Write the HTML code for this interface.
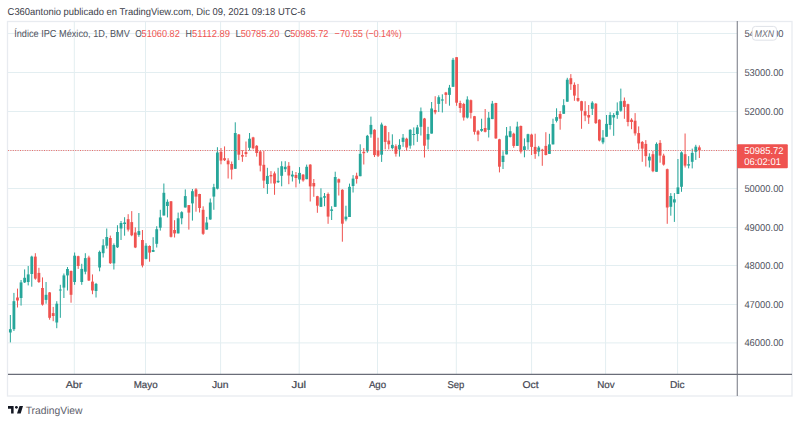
<!DOCTYPE html>
<html><head><meta charset="utf-8">
<style>
html,body{margin:0;padding:0;background:#fff;}
body{width:800px;height:424px;position:relative;overflow:hidden;}
svg{position:absolute;left:0;top:0;}
text{font-family:"Liberation Sans",sans-serif;white-space:pre;text-rendering:geometricPrecision;}
</style></head><body>
<svg width="800" height="424" viewBox="0 0 800 424">
<line x1="74.3" y1="21.5" x2="74.3" y2="374" stroke="#e3eef1" stroke-width="1"/>
<line x1="145.5" y1="21.5" x2="145.5" y2="374" stroke="#e3eef1" stroke-width="1"/>
<line x1="220.6" y1="21.5" x2="220.6" y2="374" stroke="#e3eef1" stroke-width="1"/>
<line x1="299.2" y1="21.5" x2="299.2" y2="374" stroke="#e3eef1" stroke-width="1"/>
<line x1="377.5" y1="21.5" x2="377.5" y2="374" stroke="#e3eef1" stroke-width="1"/>
<line x1="456.3" y1="21.5" x2="456.3" y2="374" stroke="#e3eef1" stroke-width="1"/>
<line x1="531.6" y1="21.5" x2="531.6" y2="374" stroke="#e3eef1" stroke-width="1"/>
<line x1="605.6" y1="21.5" x2="605.6" y2="374" stroke="#e3eef1" stroke-width="1"/>
<line x1="677.6" y1="21.5" x2="677.6" y2="374" stroke="#e3eef1" stroke-width="1"/>
<line x1="8" y1="342.90" x2="737" y2="342.90" stroke="#e3eef1" stroke-width="1"/>
<line x1="8" y1="304.50" x2="737" y2="304.50" stroke="#e3eef1" stroke-width="1"/>
<line x1="8" y1="265.50" x2="737" y2="265.50" stroke="#e3eef1" stroke-width="1"/>
<line x1="8" y1="227.50" x2="737" y2="227.50" stroke="#e3eef1" stroke-width="1"/>
<line x1="8" y1="188.50" x2="737" y2="188.50" stroke="#e3eef1" stroke-width="1"/>
<line x1="8" y1="150.50" x2="737" y2="150.50" stroke="#e3eef1" stroke-width="1"/>
<line x1="8" y1="111.50" x2="737" y2="111.50" stroke="#e3eef1" stroke-width="1"/>
<line x1="8" y1="72.50" x2="737" y2="72.50" stroke="#e3eef1" stroke-width="1"/>
<line x1="8" y1="33.50" x2="737" y2="33.50" stroke="#e3eef1" stroke-width="1"/>
<rect x="9.85" y="315.00" width="1.0" height="27.40" fill="#26a69a"/>
<rect x="8.95" y="329.20" width="2.8" height="3.30" fill="#26a69a"/>
<rect x="13.42" y="292.90" width="1.0" height="38.10" fill="#26a69a"/>
<rect x="12.52" y="301.20" width="2.8" height="28.00" fill="#26a69a"/>
<rect x="16.99" y="288.60" width="1.0" height="18.90" fill="#ef5350"/>
<rect x="16.09" y="297.50" width="2.8" height="3.00" fill="#ef5350"/>
<rect x="20.56" y="280.00" width="1.0" height="25.60" fill="#26a69a"/>
<rect x="19.66" y="282.40" width="2.8" height="15.60" fill="#26a69a"/>
<rect x="24.13" y="269.40" width="1.0" height="13.60" fill="#26a69a"/>
<rect x="23.23" y="277.80" width="2.8" height="4.60" fill="#26a69a"/>
<rect x="27.70" y="266.00" width="1.0" height="19.40" fill="#26a69a"/>
<rect x="26.80" y="274.40" width="2.8" height="7.60" fill="#26a69a"/>
<rect x="31.27" y="255.70" width="1.0" height="31.00" fill="#26a69a"/>
<rect x="30.37" y="256.60" width="2.8" height="17.40" fill="#26a69a"/>
<rect x="34.84" y="253.20" width="1.0" height="26.50" fill="#ef5350"/>
<rect x="33.94" y="256.60" width="2.8" height="22.00" fill="#ef5350"/>
<rect x="38.41" y="267.80" width="1.0" height="15.20" fill="#ef5350"/>
<rect x="37.51" y="272.90" width="2.8" height="9.10" fill="#ef5350"/>
<rect x="41.98" y="277.40" width="1.0" height="28.20" fill="#ef5350"/>
<rect x="41.08" y="288.00" width="2.8" height="16.60" fill="#ef5350"/>
<rect x="45.55" y="282.00" width="1.0" height="21.70" fill="#26a69a"/>
<rect x="44.65" y="294.80" width="2.8" height="5.10" fill="#26a69a"/>
<rect x="49.12" y="292.00" width="1.0" height="27.70" fill="#ef5350"/>
<rect x="48.22" y="292.40" width="2.8" height="25.40" fill="#ef5350"/>
<rect x="52.69" y="306.90" width="1.0" height="14.30" fill="#ef5350"/>
<rect x="51.79" y="313.10" width="2.8" height="2.90" fill="#ef5350"/>
<rect x="56.26" y="301.20" width="1.0" height="27.00" fill="#26a69a"/>
<rect x="55.36" y="303.70" width="2.8" height="18.80" fill="#26a69a"/>
<rect x="59.83" y="284.80" width="1.0" height="33.00" fill="#26a69a"/>
<rect x="58.93" y="289.50" width="2.8" height="1.00" fill="#26a69a"/>
<rect x="63.40" y="273.50" width="1.0" height="24.50" fill="#26a69a"/>
<rect x="62.50" y="275.40" width="2.8" height="12.20" fill="#26a69a"/>
<rect x="66.97" y="267.00" width="1.0" height="23.50" fill="#26a69a"/>
<rect x="66.07" y="269.00" width="2.8" height="6.40" fill="#26a69a"/>
<rect x="70.54" y="270.50" width="1.0" height="32.20" fill="#ef5350"/>
<rect x="69.64" y="271.00" width="2.8" height="23.80" fill="#ef5350"/>
<rect x="74.11" y="252.50" width="1.0" height="32.30" fill="#26a69a"/>
<rect x="73.21" y="255.70" width="2.8" height="26.30" fill="#26a69a"/>
<rect x="77.68" y="255.70" width="1.0" height="13.20" fill="#ef5350"/>
<rect x="76.78" y="256.20" width="2.8" height="9.80" fill="#ef5350"/>
<rect x="81.25" y="263.80" width="1.0" height="21.00" fill="#26a69a"/>
<rect x="80.35" y="268.90" width="2.8" height="13.10" fill="#26a69a"/>
<rect x="84.82" y="253.20" width="1.0" height="21.10" fill="#26a69a"/>
<rect x="83.92" y="258.10" width="2.8" height="13.60" fill="#26a69a"/>
<rect x="88.39" y="255.70" width="1.0" height="25.30" fill="#ef5350"/>
<rect x="87.49" y="257.50" width="2.8" height="23.00" fill="#ef5350"/>
<rect x="91.96" y="274.40" width="1.0" height="19.80" fill="#ef5350"/>
<rect x="91.06" y="281.60" width="2.8" height="8.90" fill="#ef5350"/>
<rect x="95.53" y="282.90" width="1.0" height="14.60" fill="#26a69a"/>
<rect x="94.63" y="283.90" width="2.8" height="7.10" fill="#26a69a"/>
<rect x="99.10" y="250.60" width="1.0" height="20.70" fill="#26a69a"/>
<rect x="98.20" y="251.90" width="2.8" height="15.60" fill="#26a69a"/>
<rect x="102.67" y="239.20" width="1.0" height="18.30" fill="#26a69a"/>
<rect x="101.77" y="245.30" width="2.8" height="7.90" fill="#26a69a"/>
<rect x="106.24" y="228.50" width="1.0" height="20.10" fill="#26a69a"/>
<rect x="105.34" y="237.00" width="2.8" height="8.70" fill="#26a69a"/>
<rect x="109.81" y="235.60" width="1.0" height="28.40" fill="#ef5350"/>
<rect x="108.91" y="238.00" width="2.8" height="25.20" fill="#ef5350"/>
<rect x="113.38" y="243.40" width="1.0" height="26.10" fill="#26a69a"/>
<rect x="112.48" y="245.00" width="2.8" height="18.40" fill="#26a69a"/>
<rect x="116.95" y="225.20" width="1.0" height="22.80" fill="#26a69a"/>
<rect x="116.05" y="232.00" width="2.8" height="15.30" fill="#26a69a"/>
<rect x="120.52" y="221.00" width="1.0" height="19.00" fill="#26a69a"/>
<rect x="119.62" y="223.00" width="2.8" height="5.50" fill="#26a69a"/>
<rect x="124.09" y="217.20" width="1.0" height="18.50" fill="#26a69a"/>
<rect x="123.19" y="222.50" width="2.8" height="1.50" fill="#26a69a"/>
<rect x="127.66" y="214.20" width="1.0" height="17.30" fill="#ef5350"/>
<rect x="126.76" y="219.20" width="2.8" height="10.40" fill="#ef5350"/>
<rect x="131.23" y="211.10" width="1.0" height="25.10" fill="#ef5350"/>
<rect x="130.33" y="222.10" width="2.8" height="13.20" fill="#ef5350"/>
<rect x="134.80" y="227.40" width="1.0" height="20.70" fill="#ef5350"/>
<rect x="133.90" y="232.50" width="2.8" height="15.00" fill="#ef5350"/>
<rect x="138.37" y="213.00" width="1.0" height="23.80" fill="#26a69a"/>
<rect x="137.47" y="231.10" width="2.8" height="3.80" fill="#26a69a"/>
<rect x="141.94" y="230.00" width="1.0" height="37.40" fill="#ef5350"/>
<rect x="141.04" y="240.00" width="2.8" height="25.50" fill="#ef5350"/>
<rect x="145.51" y="243.20" width="1.0" height="16.20" fill="#26a69a"/>
<rect x="144.61" y="245.70" width="2.8" height="13.20" fill="#26a69a"/>
<rect x="149.08" y="245.30" width="1.0" height="16.40" fill="#ef5350"/>
<rect x="148.18" y="246.00" width="2.8" height="6.60" fill="#ef5350"/>
<rect x="152.65" y="237.20" width="1.0" height="14.80" fill="#26a69a"/>
<rect x="151.75" y="250.00" width="2.8" height="1.90" fill="#26a69a"/>
<rect x="156.22" y="226.20" width="1.0" height="21.30" fill="#26a69a"/>
<rect x="155.32" y="229.20" width="2.8" height="14.60" fill="#26a69a"/>
<rect x="159.79" y="209.80" width="1.0" height="20.80" fill="#26a69a"/>
<rect x="158.89" y="217.40" width="2.8" height="10.30" fill="#26a69a"/>
<rect x="163.36" y="183.50" width="1.0" height="32.00" fill="#26a69a"/>
<rect x="162.46" y="192.80" width="2.8" height="22.70" fill="#26a69a"/>
<rect x="166.93" y="199.40" width="1.0" height="18.00" fill="#26a69a"/>
<rect x="166.03" y="201.80" width="2.8" height="4.20" fill="#26a69a"/>
<rect x="170.50" y="201.00" width="1.0" height="36.50" fill="#ef5350"/>
<rect x="169.60" y="201.30" width="2.8" height="35.50" fill="#ef5350"/>
<rect x="174.07" y="220.20" width="1.0" height="17.30" fill="#ef5350"/>
<rect x="173.17" y="230.00" width="2.8" height="3.40" fill="#ef5350"/>
<rect x="177.64" y="212.60" width="1.0" height="20.80" fill="#26a69a"/>
<rect x="176.74" y="218.30" width="2.8" height="15.10" fill="#26a69a"/>
<rect x="181.21" y="211.20" width="1.0" height="13.10" fill="#26a69a"/>
<rect x="180.31" y="212.20" width="2.8" height="6.10" fill="#26a69a"/>
<rect x="184.78" y="189.40" width="1.0" height="18.10" fill="#26a69a"/>
<rect x="183.88" y="196.10" width="2.8" height="11.40" fill="#26a69a"/>
<rect x="188.35" y="205.00" width="1.0" height="24.60" fill="#ef5350"/>
<rect x="187.45" y="205.10" width="2.8" height="7.50" fill="#ef5350"/>
<rect x="191.92" y="189.00" width="1.0" height="31.60" fill="#26a69a"/>
<rect x="191.02" y="191.20" width="2.8" height="12.20" fill="#26a69a"/>
<rect x="195.49" y="188.10" width="1.0" height="23.60" fill="#ef5350"/>
<rect x="194.59" y="189.40" width="2.8" height="7.20" fill="#ef5350"/>
<rect x="199.06" y="193.80" width="1.0" height="18.70" fill="#ef5350"/>
<rect x="198.16" y="194.00" width="2.8" height="14.00" fill="#ef5350"/>
<rect x="202.63" y="206.30" width="1.0" height="28.60" fill="#ef5350"/>
<rect x="201.73" y="209.80" width="2.8" height="24.00" fill="#ef5350"/>
<rect x="206.20" y="216.90" width="1.0" height="12.70" fill="#26a69a"/>
<rect x="205.30" y="222.50" width="2.8" height="7.10" fill="#26a69a"/>
<rect x="209.77" y="198.50" width="1.0" height="21.30" fill="#26a69a"/>
<rect x="208.87" y="202.50" width="2.8" height="17.00" fill="#26a69a"/>
<rect x="213.34" y="183.80" width="1.0" height="26.00" fill="#26a69a"/>
<rect x="212.44" y="187.20" width="2.8" height="9.40" fill="#26a69a"/>
<rect x="216.91" y="147.20" width="1.0" height="42.20" fill="#26a69a"/>
<rect x="216.01" y="152.50" width="2.8" height="36.20" fill="#26a69a"/>
<rect x="220.48" y="148.00" width="1.0" height="16.30" fill="#ef5350"/>
<rect x="219.58" y="151.80" width="2.8" height="8.80" fill="#ef5350"/>
<rect x="224.05" y="146.40" width="1.0" height="14.60" fill="#ef5350"/>
<rect x="223.15" y="158.20" width="2.8" height="2.00" fill="#ef5350"/>
<rect x="227.62" y="158.20" width="1.0" height="20.30" fill="#ef5350"/>
<rect x="226.72" y="160.60" width="2.8" height="3.70" fill="#ef5350"/>
<rect x="231.19" y="161.50" width="1.0" height="17.90" fill="#ef5350"/>
<rect x="230.29" y="164.00" width="2.8" height="5.60" fill="#ef5350"/>
<rect x="234.76" y="122.30" width="1.0" height="46.50" fill="#26a69a"/>
<rect x="233.86" y="133.00" width="2.8" height="35.80" fill="#26a69a"/>
<rect x="238.33" y="134.00" width="1.0" height="26.10" fill="#ef5350"/>
<rect x="237.43" y="134.50" width="2.8" height="20.20" fill="#ef5350"/>
<rect x="241.90" y="150.20" width="1.0" height="11.60" fill="#ef5350"/>
<rect x="241.00" y="155.10" width="2.8" height="1.50" fill="#ef5350"/>
<rect x="245.47" y="141.50" width="1.0" height="15.50" fill="#ef5350"/>
<rect x="244.57" y="152.10" width="2.8" height="1.90" fill="#ef5350"/>
<rect x="249.04" y="133.00" width="1.0" height="17.50" fill="#26a69a"/>
<rect x="248.14" y="138.70" width="2.8" height="9.10" fill="#26a69a"/>
<rect x="252.61" y="136.80" width="1.0" height="12.60" fill="#ef5350"/>
<rect x="251.71" y="137.40" width="2.8" height="10.90" fill="#ef5350"/>
<rect x="256.18" y="145.10" width="1.0" height="11.50" fill="#ef5350"/>
<rect x="255.28" y="145.80" width="2.8" height="7.20" fill="#ef5350"/>
<rect x="259.75" y="150.80" width="1.0" height="20.60" fill="#ef5350"/>
<rect x="258.85" y="151.50" width="2.8" height="14.10" fill="#ef5350"/>
<rect x="263.32" y="150.90" width="1.0" height="37.20" fill="#ef5350"/>
<rect x="262.42" y="164.80" width="2.8" height="15.80" fill="#ef5350"/>
<rect x="266.89" y="167.80" width="1.0" height="26.10" fill="#26a69a"/>
<rect x="265.99" y="175.90" width="2.8" height="8.10" fill="#26a69a"/>
<rect x="270.46" y="171.10" width="1.0" height="12.40" fill="#ef5350"/>
<rect x="269.56" y="175.00" width="2.8" height="1.40" fill="#ef5350"/>
<rect x="274.03" y="171.50" width="1.0" height="23.30" fill="#ef5350"/>
<rect x="273.13" y="173.40" width="2.8" height="10.10" fill="#ef5350"/>
<rect x="277.60" y="167.80" width="1.0" height="15.20" fill="#26a69a"/>
<rect x="276.70" y="180.80" width="2.8" height="1.40" fill="#26a69a"/>
<rect x="281.17" y="161.30" width="1.0" height="25.00" fill="#26a69a"/>
<rect x="280.27" y="166.20" width="2.8" height="9.60" fill="#26a69a"/>
<rect x="284.74" y="161.20" width="1.0" height="10.80" fill="#26a69a"/>
<rect x="283.84" y="166.80" width="2.8" height="2.40" fill="#26a69a"/>
<rect x="288.31" y="162.10" width="1.0" height="22.10" fill="#ef5350"/>
<rect x="287.41" y="165.80" width="2.8" height="9.70" fill="#ef5350"/>
<rect x="291.88" y="170.80" width="1.0" height="10.70" fill="#26a69a"/>
<rect x="290.98" y="174.60" width="2.8" height="1.90" fill="#26a69a"/>
<rect x="295.45" y="172.00" width="1.0" height="15.40" fill="#ef5350"/>
<rect x="294.55" y="175.00" width="2.8" height="3.00" fill="#ef5350"/>
<rect x="299.02" y="167.10" width="1.0" height="16.50" fill="#26a69a"/>
<rect x="298.12" y="172.90" width="2.8" height="6.60" fill="#26a69a"/>
<rect x="302.59" y="174.10" width="1.0" height="7.60" fill="#ef5350"/>
<rect x="301.69" y="174.60" width="2.8" height="5.80" fill="#ef5350"/>
<rect x="306.16" y="164.60" width="1.0" height="14.60" fill="#26a69a"/>
<rect x="305.26" y="166.80" width="2.8" height="12.40" fill="#26a69a"/>
<rect x="309.73" y="164.20" width="1.0" height="37.30" fill="#ef5350"/>
<rect x="308.83" y="164.60" width="2.8" height="21.80" fill="#ef5350"/>
<rect x="313.30" y="179.00" width="1.0" height="17.80" fill="#ef5350"/>
<rect x="312.40" y="183.00" width="2.8" height="3.40" fill="#ef5350"/>
<rect x="316.87" y="195.80" width="1.0" height="17.00" fill="#ef5350"/>
<rect x="315.97" y="196.20" width="2.8" height="9.50" fill="#ef5350"/>
<rect x="320.44" y="188.30" width="1.0" height="18.50" fill="#26a69a"/>
<rect x="319.54" y="197.40" width="2.8" height="9.40" fill="#26a69a"/>
<rect x="324.01" y="193.00" width="1.0" height="13.20" fill="#26a69a"/>
<rect x="323.11" y="196.20" width="2.8" height="1.50" fill="#26a69a"/>
<rect x="327.58" y="192.50" width="1.0" height="31.30" fill="#ef5350"/>
<rect x="326.68" y="194.00" width="2.8" height="22.60" fill="#ef5350"/>
<rect x="331.15" y="206.20" width="1.0" height="13.80" fill="#26a69a"/>
<rect x="330.25" y="209.40" width="2.8" height="1.50" fill="#26a69a"/>
<rect x="334.72" y="171.70" width="1.0" height="35.10" fill="#26a69a"/>
<rect x="333.82" y="177.00" width="2.8" height="29.80" fill="#26a69a"/>
<rect x="338.29" y="178.50" width="1.0" height="17.00" fill="#ef5350"/>
<rect x="337.39" y="179.20" width="2.8" height="3.40" fill="#ef5350"/>
<rect x="341.86" y="189.20" width="1.0" height="52.50" fill="#ef5350"/>
<rect x="340.96" y="189.80" width="2.8" height="33.90" fill="#ef5350"/>
<rect x="345.43" y="205.70" width="1.0" height="15.60" fill="#26a69a"/>
<rect x="344.53" y="216.60" width="2.8" height="2.80" fill="#26a69a"/>
<rect x="349.00" y="183.60" width="1.0" height="33.40" fill="#26a69a"/>
<rect x="348.10" y="186.80" width="2.8" height="30.20" fill="#26a69a"/>
<rect x="352.57" y="175.10" width="1.0" height="17.40" fill="#26a69a"/>
<rect x="351.67" y="178.60" width="2.8" height="7.40" fill="#26a69a"/>
<rect x="356.14" y="172.70" width="1.0" height="10.90" fill="#ef5350"/>
<rect x="355.24" y="175.70" width="2.8" height="3.20" fill="#ef5350"/>
<rect x="359.71" y="144.30" width="1.0" height="31.90" fill="#26a69a"/>
<rect x="358.81" y="153.80" width="2.8" height="22.40" fill="#26a69a"/>
<rect x="363.28" y="148.10" width="1.0" height="16.40" fill="#ef5350"/>
<rect x="362.38" y="151.90" width="2.8" height="1.30" fill="#ef5350"/>
<rect x="366.85" y="134.90" width="1.0" height="17.90" fill="#26a69a"/>
<rect x="365.95" y="135.80" width="2.8" height="15.50" fill="#26a69a"/>
<rect x="370.42" y="116.60" width="1.0" height="21.10" fill="#26a69a"/>
<rect x="369.52" y="124.90" width="2.8" height="9.40" fill="#26a69a"/>
<rect x="373.99" y="129.20" width="1.0" height="27.80" fill="#ef5350"/>
<rect x="373.09" y="129.80" width="2.8" height="25.30" fill="#ef5350"/>
<rect x="377.56" y="137.70" width="1.0" height="19.30" fill="#ef5350"/>
<rect x="376.66" y="150.60" width="2.8" height="5.10" fill="#ef5350"/>
<rect x="381.13" y="122.60" width="1.0" height="39.30" fill="#26a69a"/>
<rect x="380.23" y="124.50" width="2.8" height="30.20" fill="#26a69a"/>
<rect x="384.70" y="125.50" width="1.0" height="23.90" fill="#ef5350"/>
<rect x="383.80" y="126.00" width="2.8" height="15.90" fill="#ef5350"/>
<rect x="388.27" y="132.10" width="1.0" height="17.30" fill="#ef5350"/>
<rect x="387.37" y="140.60" width="2.8" height="3.70" fill="#ef5350"/>
<rect x="391.84" y="134.30" width="1.0" height="15.10" fill="#26a69a"/>
<rect x="390.94" y="144.90" width="2.8" height="3.20" fill="#26a69a"/>
<rect x="395.41" y="144.30" width="1.0" height="12.30" fill="#ef5350"/>
<rect x="394.51" y="146.20" width="2.8" height="7.60" fill="#ef5350"/>
<rect x="398.98" y="139.20" width="1.0" height="17.40" fill="#26a69a"/>
<rect x="398.08" y="144.90" width="2.8" height="4.50" fill="#26a69a"/>
<rect x="402.55" y="134.00" width="1.0" height="12.80" fill="#26a69a"/>
<rect x="401.65" y="137.70" width="2.8" height="4.20" fill="#26a69a"/>
<rect x="406.12" y="137.70" width="1.0" height="12.90" fill="#ef5350"/>
<rect x="405.22" y="138.70" width="2.8" height="8.80" fill="#ef5350"/>
<rect x="409.69" y="129.20" width="1.0" height="19.50" fill="#26a69a"/>
<rect x="408.79" y="129.80" width="2.8" height="15.90" fill="#26a69a"/>
<rect x="413.26" y="127.40" width="1.0" height="17.90" fill="#26a69a"/>
<rect x="412.36" y="134.00" width="2.8" height="1.00" fill="#26a69a"/>
<rect x="416.83" y="124.90" width="1.0" height="17.00" fill="#26a69a"/>
<rect x="415.93" y="127.40" width="2.8" height="6.60" fill="#26a69a"/>
<rect x="420.40" y="107.50" width="1.0" height="28.00" fill="#26a69a"/>
<rect x="419.50" y="111.30" width="2.8" height="15.50" fill="#26a69a"/>
<rect x="423.97" y="117.90" width="1.0" height="39.60" fill="#ef5350"/>
<rect x="423.07" y="118.50" width="2.8" height="27.20" fill="#ef5350"/>
<rect x="427.54" y="126.80" width="1.0" height="22.60" fill="#26a69a"/>
<rect x="426.64" y="134.00" width="2.8" height="5.60" fill="#26a69a"/>
<rect x="431.11" y="102.00" width="1.0" height="31.60" fill="#26a69a"/>
<rect x="430.21" y="108.50" width="2.8" height="25.10" fill="#26a69a"/>
<rect x="434.68" y="96.20" width="1.0" height="18.10" fill="#ef5350"/>
<rect x="433.78" y="110.00" width="2.8" height="2.30" fill="#ef5350"/>
<rect x="438.25" y="95.30" width="1.0" height="16.70" fill="#26a69a"/>
<rect x="437.35" y="97.20" width="2.8" height="6.70" fill="#26a69a"/>
<rect x="441.82" y="94.30" width="1.0" height="18.20" fill="#26a69a"/>
<rect x="440.92" y="99.40" width="2.8" height="1.20" fill="#26a69a"/>
<rect x="445.39" y="91.90" width="1.0" height="11.90" fill="#ef5350"/>
<rect x="444.49" y="92.50" width="2.8" height="2.40" fill="#ef5350"/>
<rect x="448.96" y="84.90" width="1.0" height="20.80" fill="#26a69a"/>
<rect x="448.06" y="87.70" width="2.8" height="7.20" fill="#26a69a"/>
<rect x="452.53" y="57.90" width="1.0" height="28.90" fill="#26a69a"/>
<rect x="451.63" y="59.80" width="2.8" height="27.00" fill="#26a69a"/>
<rect x="456.10" y="57.20" width="1.0" height="48.60" fill="#ef5350"/>
<rect x="455.20" y="57.20" width="2.8" height="45.50" fill="#ef5350"/>
<rect x="459.67" y="100.70" width="1.0" height="12.10" fill="#ef5350"/>
<rect x="458.77" y="103.00" width="2.8" height="5.00" fill="#ef5350"/>
<rect x="463.24" y="102.80" width="1.0" height="17.80" fill="#ef5350"/>
<rect x="462.34" y="104.00" width="2.8" height="13.50" fill="#ef5350"/>
<rect x="466.81" y="96.30" width="1.0" height="22.20" fill="#26a69a"/>
<rect x="465.91" y="99.50" width="2.8" height="18.10" fill="#26a69a"/>
<rect x="470.38" y="99.50" width="1.0" height="19.00" fill="#ef5350"/>
<rect x="469.48" y="100.20" width="2.8" height="12.60" fill="#ef5350"/>
<rect x="473.95" y="115.90" width="1.0" height="18.70" fill="#ef5350"/>
<rect x="473.05" y="116.20" width="2.8" height="15.60" fill="#ef5350"/>
<rect x="477.52" y="129.90" width="1.0" height="11.30" fill="#ef5350"/>
<rect x="476.62" y="131.20" width="2.8" height="3.40" fill="#ef5350"/>
<rect x="481.09" y="118.70" width="1.0" height="13.10" fill="#26a69a"/>
<rect x="480.19" y="129.00" width="2.8" height="1.80" fill="#26a69a"/>
<rect x="484.66" y="109.00" width="1.0" height="23.40" fill="#ef5350"/>
<rect x="483.76" y="128.00" width="2.8" height="3.80" fill="#ef5350"/>
<rect x="488.23" y="112.00" width="1.0" height="25.50" fill="#26a69a"/>
<rect x="487.33" y="117.70" width="2.8" height="12.20" fill="#26a69a"/>
<rect x="491.80" y="100.90" width="1.0" height="18.20" fill="#26a69a"/>
<rect x="490.90" y="103.60" width="2.8" height="15.50" fill="#26a69a"/>
<rect x="495.37" y="102.80" width="1.0" height="36.00" fill="#ef5350"/>
<rect x="494.47" y="103.00" width="2.8" height="35.40" fill="#ef5350"/>
<rect x="498.94" y="138.80" width="1.0" height="33.60" fill="#ef5350"/>
<rect x="498.04" y="139.30" width="2.8" height="27.40" fill="#ef5350"/>
<rect x="502.51" y="151.20" width="1.0" height="17.80" fill="#26a69a"/>
<rect x="501.61" y="155.80" width="2.8" height="6.20" fill="#26a69a"/>
<rect x="506.08" y="127.00" width="1.0" height="27.40" fill="#26a69a"/>
<rect x="505.18" y="135.60" width="2.8" height="18.80" fill="#26a69a"/>
<rect x="509.65" y="126.20" width="1.0" height="11.30" fill="#26a69a"/>
<rect x="508.75" y="131.20" width="2.8" height="5.70" fill="#26a69a"/>
<rect x="513.22" y="132.70" width="1.0" height="15.10" fill="#ef5350"/>
<rect x="512.32" y="133.70" width="2.8" height="12.20" fill="#ef5350"/>
<rect x="516.79" y="121.70" width="1.0" height="24.20" fill="#26a69a"/>
<rect x="515.89" y="126.60" width="2.8" height="19.30" fill="#26a69a"/>
<rect x="520.36" y="125.50" width="1.0" height="28.00" fill="#ef5350"/>
<rect x="519.46" y="126.00" width="2.8" height="25.60" fill="#ef5350"/>
<rect x="523.93" y="138.40" width="1.0" height="18.90" fill="#26a69a"/>
<rect x="523.03" y="146.30" width="2.8" height="3.80" fill="#26a69a"/>
<rect x="527.50" y="133.70" width="1.0" height="16.00" fill="#26a69a"/>
<rect x="526.60" y="134.20" width="2.8" height="8.00" fill="#26a69a"/>
<rect x="531.07" y="133.70" width="1.0" height="21.30" fill="#ef5350"/>
<rect x="530.17" y="134.60" width="2.8" height="12.30" fill="#ef5350"/>
<rect x="534.64" y="133.70" width="1.0" height="25.10" fill="#ef5350"/>
<rect x="533.74" y="146.90" width="2.8" height="7.00" fill="#ef5350"/>
<rect x="538.21" y="145.90" width="1.0" height="10.40" fill="#26a69a"/>
<rect x="537.31" y="147.50" width="2.8" height="4.10" fill="#26a69a"/>
<rect x="541.78" y="148.80" width="1.0" height="17.00" fill="#ef5350"/>
<rect x="540.88" y="149.70" width="2.8" height="1.00" fill="#ef5350"/>
<rect x="545.35" y="132.20" width="1.0" height="23.20" fill="#ef5350"/>
<rect x="544.45" y="145.90" width="2.8" height="9.10" fill="#ef5350"/>
<rect x="548.92" y="133.80" width="1.0" height="20.10" fill="#26a69a"/>
<rect x="548.02" y="144.40" width="2.8" height="9.50" fill="#26a69a"/>
<rect x="552.49" y="118.70" width="1.0" height="25.70" fill="#26a69a"/>
<rect x="551.59" y="124.00" width="2.8" height="20.40" fill="#26a69a"/>
<rect x="556.06" y="108.30" width="1.0" height="14.10" fill="#26a69a"/>
<rect x="555.16" y="117.10" width="2.8" height="3.70" fill="#26a69a"/>
<rect x="559.63" y="111.10" width="1.0" height="18.60" fill="#ef5350"/>
<rect x="558.73" y="114.00" width="2.8" height="4.70" fill="#ef5350"/>
<rect x="563.20" y="99.20" width="1.0" height="14.60" fill="#26a69a"/>
<rect x="562.30" y="105.20" width="2.8" height="8.60" fill="#26a69a"/>
<rect x="566.77" y="77.80" width="1.0" height="23.90" fill="#26a69a"/>
<rect x="565.87" y="79.70" width="2.8" height="22.00" fill="#26a69a"/>
<rect x="570.34" y="74.10" width="1.0" height="15.80" fill="#ef5350"/>
<rect x="569.44" y="78.20" width="2.8" height="6.00" fill="#ef5350"/>
<rect x="573.91" y="82.40" width="1.0" height="18.40" fill="#ef5350"/>
<rect x="573.01" y="84.80" width="2.8" height="10.80" fill="#ef5350"/>
<rect x="577.48" y="83.90" width="1.0" height="17.90" fill="#ef5350"/>
<rect x="576.58" y="98.00" width="2.8" height="2.80" fill="#ef5350"/>
<rect x="581.05" y="100.80" width="1.0" height="28.00" fill="#ef5350"/>
<rect x="580.15" y="101.20" width="2.8" height="9.50" fill="#ef5350"/>
<rect x="584.62" y="101.20" width="1.0" height="20.00" fill="#ef5350"/>
<rect x="583.72" y="111.20" width="2.8" height="4.40" fill="#ef5350"/>
<rect x="588.19" y="105.00" width="1.0" height="18.90" fill="#ef5350"/>
<rect x="587.29" y="115.00" width="2.8" height="2.50" fill="#ef5350"/>
<rect x="591.76" y="101.20" width="1.0" height="13.80" fill="#26a69a"/>
<rect x="590.86" y="102.70" width="2.8" height="6.10" fill="#26a69a"/>
<rect x="595.33" y="103.10" width="1.0" height="20.80" fill="#ef5350"/>
<rect x="594.43" y="103.70" width="2.8" height="19.40" fill="#ef5350"/>
<rect x="598.90" y="119.30" width="1.0" height="22.10" fill="#ef5350"/>
<rect x="598.00" y="119.70" width="2.8" height="20.80" fill="#ef5350"/>
<rect x="602.47" y="130.10" width="1.0" height="14.10" fill="#26a69a"/>
<rect x="601.57" y="137.60" width="2.8" height="4.80" fill="#26a69a"/>
<rect x="606.04" y="115.00" width="1.0" height="21.70" fill="#26a69a"/>
<rect x="605.14" y="123.90" width="2.8" height="12.80" fill="#26a69a"/>
<rect x="609.61" y="112.20" width="1.0" height="17.30" fill="#26a69a"/>
<rect x="608.71" y="115.00" width="2.8" height="10.00" fill="#26a69a"/>
<rect x="613.18" y="113.10" width="1.0" height="22.70" fill="#26a69a"/>
<rect x="612.28" y="115.00" width="2.8" height="2.50" fill="#26a69a"/>
<rect x="616.75" y="102.40" width="1.0" height="16.40" fill="#26a69a"/>
<rect x="615.85" y="111.20" width="2.8" height="3.80" fill="#26a69a"/>
<rect x="620.32" y="88.60" width="1.0" height="23.20" fill="#26a69a"/>
<rect x="619.42" y="101.20" width="2.8" height="9.50" fill="#26a69a"/>
<rect x="623.89" y="97.50" width="1.0" height="21.30" fill="#ef5350"/>
<rect x="622.99" y="100.80" width="2.8" height="6.10" fill="#ef5350"/>
<rect x="627.46" y="103.70" width="1.0" height="22.60" fill="#ef5350"/>
<rect x="626.56" y="104.20" width="2.8" height="17.80" fill="#ef5350"/>
<rect x="631.03" y="118.20" width="1.0" height="11.00" fill="#ef5350"/>
<rect x="630.13" y="119.70" width="2.8" height="2.30" fill="#ef5350"/>
<rect x="634.60" y="113.10" width="1.0" height="22.50" fill="#ef5350"/>
<rect x="633.70" y="120.70" width="2.8" height="12.70" fill="#ef5350"/>
<rect x="638.17" y="126.40" width="1.0" height="23.10" fill="#ef5350"/>
<rect x="637.27" y="133.10" width="2.8" height="10.30" fill="#ef5350"/>
<rect x="641.74" y="141.00" width="1.0" height="20.80" fill="#ef5350"/>
<rect x="640.84" y="142.00" width="2.8" height="6.60" fill="#ef5350"/>
<rect x="645.31" y="140.10" width="1.0" height="26.40" fill="#ef5350"/>
<rect x="644.41" y="143.90" width="2.8" height="12.20" fill="#ef5350"/>
<rect x="648.88" y="153.30" width="1.0" height="14.20" fill="#26a69a"/>
<rect x="647.98" y="156.70" width="2.8" height="3.80" fill="#26a69a"/>
<rect x="652.45" y="151.00" width="1.0" height="21.20" fill="#ef5350"/>
<rect x="651.55" y="154.20" width="2.8" height="17.00" fill="#ef5350"/>
<rect x="656.02" y="142.40" width="1.0" height="29.40" fill="#26a69a"/>
<rect x="655.12" y="143.90" width="2.8" height="27.90" fill="#26a69a"/>
<rect x="659.59" y="140.10" width="1.0" height="22.60" fill="#ef5350"/>
<rect x="658.69" y="142.90" width="2.8" height="12.70" fill="#ef5350"/>
<rect x="663.16" y="153.70" width="1.0" height="11.90" fill="#ef5350"/>
<rect x="662.26" y="155.60" width="2.8" height="9.00" fill="#ef5350"/>
<rect x="666.73" y="168.60" width="1.0" height="55.20" fill="#ef5350"/>
<rect x="665.83" y="169.20" width="2.8" height="38.30" fill="#ef5350"/>
<rect x="670.30" y="193.10" width="1.0" height="22.60" fill="#26a69a"/>
<rect x="669.40" y="196.00" width="2.8" height="10.80" fill="#26a69a"/>
<rect x="673.87" y="193.10" width="1.0" height="28.80" fill="#26a69a"/>
<rect x="672.97" y="199.30" width="2.8" height="3.20" fill="#26a69a"/>
<rect x="677.44" y="159.00" width="1.0" height="35.00" fill="#26a69a"/>
<rect x="676.54" y="187.40" width="2.8" height="6.60" fill="#26a69a"/>
<rect x="681.01" y="151.40" width="1.0" height="40.40" fill="#26a69a"/>
<rect x="680.11" y="152.40" width="2.8" height="34.40" fill="#26a69a"/>
<rect x="684.58" y="133.50" width="1.0" height="34.00" fill="#ef5350"/>
<rect x="683.68" y="154.20" width="2.8" height="11.40" fill="#ef5350"/>
<rect x="688.15" y="156.10" width="1.0" height="12.30" fill="#26a69a"/>
<rect x="687.25" y="164.20" width="2.8" height="1.40" fill="#26a69a"/>
<rect x="691.72" y="148.60" width="1.0" height="19.80" fill="#26a69a"/>
<rect x="690.82" y="152.90" width="2.8" height="8.90" fill="#26a69a"/>
<rect x="695.29" y="144.80" width="1.0" height="15.10" fill="#26a69a"/>
<rect x="694.39" y="146.70" width="2.8" height="5.10" fill="#26a69a"/>
<rect x="698.86" y="145.40" width="1.0" height="12.60" fill="#ef5350"/>
<rect x="697.96" y="147.35" width="2.8" height="2.90" fill="#ef5350"/>
<line x1="8" y1="150.5" x2="737" y2="150.5" stroke="#ef5350" stroke-width="1" stroke-dasharray="1 1.4" opacity="0.85"/>
<rect x="7.5" y="21.5" width="784.5" height="374.5" fill="none" stroke="#e8ebf0" stroke-width="1.3"/>
<line x1="737.3" y1="21" x2="737.3" y2="396" stroke="#8a8d96" stroke-width="1.2"/>
<line x1="8" y1="374.4" x2="792" y2="374.4" stroke="#6a6d78" stroke-width="1.2"/>
<text x="7.60" y="14.95" font-size="10" fill="#3a3d48" textLength="298.00" lengthAdjust="spacingAndGlyphs">C360antonio publicado en TradingView.com, Dic 09, 2021 09:18 UTC-6</text>
<text x="14.15" y="36.50" font-size="10.2" fill="#50535e" textLength="115.75" lengthAdjust="spacingAndGlyphs">Índice IPC México, 1D, BMV</text>
<text x="135.15" y="36.50" font-size="10.2" fill="#50535e" textLength="6.45" lengthAdjust="spacingAndGlyphs">O</text>
<text x="141.60" y="36.50" font-size="10.2" fill="#ef5350" textLength="38.20" lengthAdjust="spacingAndGlyphs">51060.82</text>
<text x="185.40" y="36.50" font-size="10.2" fill="#50535e" textLength="6.40" lengthAdjust="spacingAndGlyphs">H</text>
<text x="192.10" y="36.50" font-size="10.2" fill="#ef5350" textLength="38.00" lengthAdjust="spacingAndGlyphs">51112.89</text>
<text x="235.60" y="36.50" font-size="10.2" fill="#50535e" textLength="5.50" lengthAdjust="spacingAndGlyphs">L</text>
<text x="240.65" y="36.50" font-size="10.2" fill="#ef5350" textLength="38.70" lengthAdjust="spacingAndGlyphs">50785.20</text>
<text x="284.15" y="36.50" font-size="10.2" fill="#50535e" textLength="6.45" lengthAdjust="spacingAndGlyphs">C</text>
<text x="290.15" y="36.50" font-size="10.2" fill="#ef5350" textLength="38.20" lengthAdjust="spacingAndGlyphs">50985.72</text>
<text x="334.60" y="36.50" font-size="10.2" fill="#ef5350" textLength="28.20" lengthAdjust="spacingAndGlyphs">−70.55</text>
<text x="365.70" y="36.50" font-size="10.2" fill="#ef5350" textLength="35.90" lengthAdjust="spacingAndGlyphs">(−0.14%)</text>
<text x="744.40" y="346.40" font-size="10" fill="#50535e" textLength="39.20" lengthAdjust="spacingAndGlyphs">46000.00</text>
<text x="744.40" y="308.00" font-size="10" fill="#50535e" textLength="39.20" lengthAdjust="spacingAndGlyphs">47000.00</text>
<text x="744.40" y="269.00" font-size="10" fill="#50535e" textLength="39.20" lengthAdjust="spacingAndGlyphs">48000.00</text>
<text x="744.40" y="231.00" font-size="10" fill="#50535e" textLength="39.20" lengthAdjust="spacingAndGlyphs">49000.00</text>
<text x="744.40" y="192.00" font-size="10" fill="#50535e" textLength="39.20" lengthAdjust="spacingAndGlyphs">50000.00</text>
<text x="744.40" y="115.00" font-size="10" fill="#50535e" textLength="39.20" lengthAdjust="spacingAndGlyphs">52000.00</text>
<text x="744.40" y="76.00" font-size="10" fill="#50535e" textLength="39.20" lengthAdjust="spacingAndGlyphs">53000.00</text>
<text x="744.40" y="37.00" font-size="10" fill="#50535e" textLength="39.20" lengthAdjust="spacingAndGlyphs">54000.00</text>
<text stroke="#434651" stroke-width="0.2" x="65.65" y="388.00" font-size="9.9" fill="#434651" textLength="16.70" lengthAdjust="spacingAndGlyphs">Abr</text>
<text stroke="#434651" stroke-width="0.2" x="133.65" y="388.00" font-size="9.9" fill="#434651" textLength="23.95" lengthAdjust="spacingAndGlyphs">Mayo</text>
<text stroke="#434651" stroke-width="0.2" x="211.90" y="388.00" font-size="9.9" fill="#434651" textLength="16.70" lengthAdjust="spacingAndGlyphs">Jun</text>
<text stroke="#434651" stroke-width="0.2" x="291.40" y="388.00" font-size="9.9" fill="#434651" textLength="14.70" lengthAdjust="spacingAndGlyphs">Jul</text>
<text stroke="#434651" stroke-width="0.2" x="368.90" y="388.00" font-size="9.9" fill="#434651" textLength="17.20" lengthAdjust="spacingAndGlyphs">Ago</text>
<text stroke="#434651" stroke-width="0.2" x="447.50" y="388.00" font-size="9.9" fill="#434651" textLength="16.85" lengthAdjust="spacingAndGlyphs">Sep</text>
<text stroke="#434651" stroke-width="0.2" x="522.50" y="388.00" font-size="9.9" fill="#434651" textLength="16.20" lengthAdjust="spacingAndGlyphs">Oct</text>
<text stroke="#434651" stroke-width="0.2" x="597.15" y="388.00" font-size="9.9" fill="#434651" textLength="17.45" lengthAdjust="spacingAndGlyphs">Nov</text>
<text stroke="#434651" stroke-width="0.2" x="670.00" y="388.00" font-size="9.9" fill="#434651" textLength="14.60" lengthAdjust="spacingAndGlyphs">Dic</text>
<text x="25.65" y="413.75" font-size="10.5" fill="#5d606b" textLength="56.85" lengthAdjust="spacingAndGlyphs">TradingView</text>
<rect x="752.4" y="26.4" width="24.1" height="13.8" rx="3" ry="3" fill="#fff" stroke="#dfe2e8" stroke-width="1"/>
<text x="754.70" y="36.80" font-size="9.8" fill="#6a6d78" textLength="19.20" lengthAdjust="spacingAndGlyphs" font-style="italic">MXN</text>
<rect x="737" y="144.15" width="50.8" height="24.15" rx="1" fill="#ef5350"/>
<text x="744.20" y="154.20" font-size="9.8" fill="#ffffff" textLength="39.30" lengthAdjust="spacingAndGlyphs">50985.72</text>
<text x="744.20" y="164.90" font-size="9.8" fill="#ffffff" textLength="36.70" lengthAdjust="spacingAndGlyphs">06:02:01</text>
<g fill="#131722">
<path d="M8.0 405.9 H13.6 V413.6 H11.1 V408.7 H8.0 Z"/>
<circle cx="16.4" cy="407.3" r="1.4"/>
<path d="M19.5 405.9 H23.0 L20.7 413.6 H17.0 Z"/>
</g>
</svg>
</body></html>
